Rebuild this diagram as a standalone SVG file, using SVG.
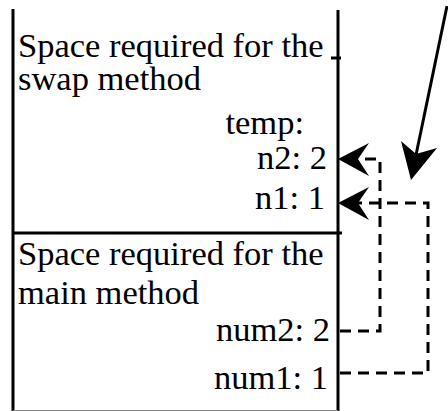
<svg xmlns="http://www.w3.org/2000/svg" width="448" height="411" viewBox="0 0 448 411">
<style>
.t{font-family:"Liberation Serif","Times New Roman",serif;font-size:34.5px;fill:#000}
.e{text-anchor:end}
.s{stroke:#000;stroke-width:3;fill:none}
.d{stroke:#000;stroke-width:3;fill:none;stroke-dasharray:11 7}
.h{fill:#000;stroke:none}
</style>
<rect width="448" height="411" fill="#fff"/>
<g id="stack">
<line class="s" x1="13" y1="9" x2="13" y2="411"/>
<line class="s" x1="338" y1="10" x2="338" y2="411"/>
<line class="s" x1="331" y1="58" x2="341" y2="58"/>
<line class="s" x1="12" y1="233" x2="342" y2="233"/>
<line x1="13" y1="410.5" x2="338" y2="410.5" stroke="#888" stroke-width="1"/>
</g>
<g id="swap">
<text class="t" x="18" y="57">Space required for the<tspan x="18" dy="33">swap method</tspan></text>
<text class="t e" x="304" y="134">temp:</text>
<text class="t e" x="327" y="169">n2: 2</text>
<text class="t e" x="325" y="209">n1: 1</text>
</g>
<g id="main">
<text class="t" x="18" y="265">Space required for the<tspan x="18" dy="39">main method</tspan></text>
<text class="t e" x="330" y="341">num2: 2</text>
<text class="t e" x="328" y="389">num1: 1</text>
</g>
<g id="connectors">
<polyline class="d" points="340,331 380,331 380,159 357,159"/>
<polygon class="h" points="338,159 369,143 358,159 369,176"/>
<polyline class="d" points="340,373 428,373 428,203 357,203"/>
<polygon class="h" points="338,203 369,187 358,203 369,220"/>
<line class="s" x1="447" y1="6" x2="416" y2="155"/>
<polygon class="h" points="411,180 401,141 416,154 437,148"/>
</g>
</svg>
